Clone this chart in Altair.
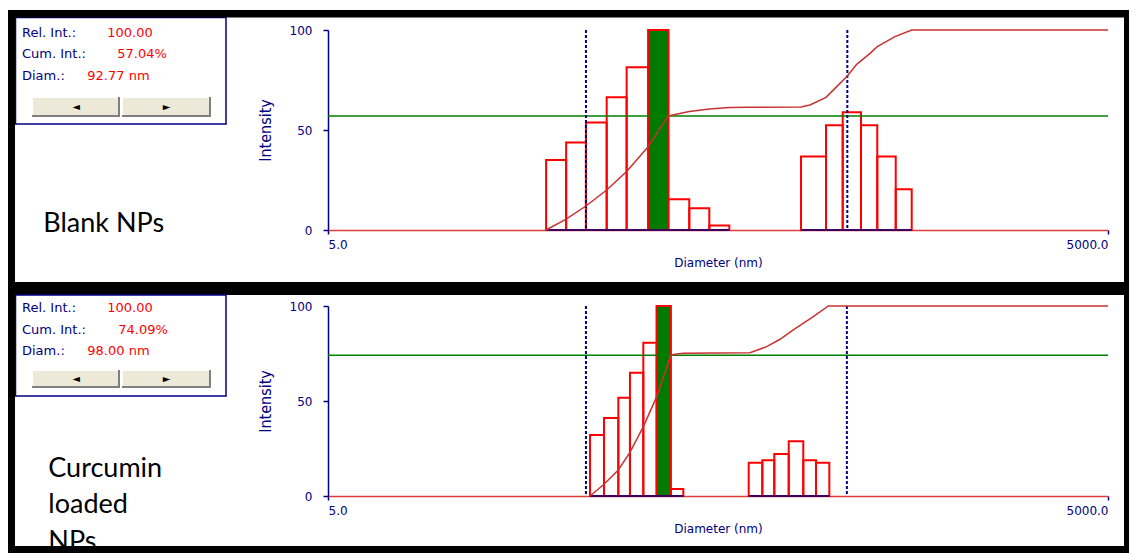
import altair as alt
import pandas as pd

# ---------------- data ----------------
# Panel 1 : Blank NPs  -- histogram bin edges (nm) and relative intensities
blank_edges_a = [34.5, 41.2, 49.1, 59.0, 70.4, 85.3, 101.8, 122.6, 146.4, 174.8]
blank_int_a = [35.0, 43.7, 53.7, 66.4, 81.4, 100.0, 15.4, 10.9, 2.2]
blank_edges_b = [329.8, 411.5, 477.1, 561.0, 648.0, 763.0, 879.0]
blank_int_b = [36.7, 52.4, 58.9, 52.4, 36.7, 20.4]
# cumulative intensity curve
blank_cum_d = [34.5, 41.2, 49.1, 59.0, 70.4, 85.3, 101.8, 122.6, 146.4, 174.8, 210.0,
               329.8, 357.0, 411.5, 452.5, 497.0, 540.0, 607.6, 648.0, 758.0, 879.0, 5000.0]
blank_cum_v = [0.0, 5.4, 12.0, 20.0, 29.2, 41.7, 57.04, 59.2, 60.5, 61.2, 61.4,
               61.5, 62.5, 66.3, 71.7, 77.0, 82.8, 88.3, 91.7, 96.7, 100.0, 100.0]
blank_markers = [49.1, 497.0]
blank_readout = {"rel": "100.00", "cum": 57.04, "diam": 92.77}

# Panel 2 : Curcumin loaded NPs
loaded_edges_a = [50.9, 57.6, 65.4, 72.5, 81.6, 91.9, 104.0, 116.3]
loaded_int_a = [32.1, 41.1, 51.7, 64.9, 80.7, 100.0, 3.7]
loaded_edges_b = [207.5, 234.1, 260.3, 295.8, 336.5, 376.6, 423.8]
loaded_int_b = [17.5, 18.8, 22.1, 28.8, 18.8, 17.5]
loaded_cum_d = [50.9, 57.6, 65.4, 72.5, 81.6, 91.9, 104.0, 108.0, 116.3, 209.9,
                243.4, 273.8, 308.0, 367.7, 420.0, 5000.0]
loaded_cum_v = [0.0, 6.2, 13.7, 23.0, 36.5, 52.3, 74.09, 74.6, 75.1, 75.4,
                78.6, 82.5, 87.4, 94.4, 100.0, 100.0]
loaded_markers = [49.1, 495.0]
loaded_readout = {"rel": "100.00", "cum": 74.09, "diam": 98.00}

x_ticks = [5, 5000]
y_ticks = [0, 50, 100]

# ---------------- styling ----------------
NAVY = "#000080"
RED = "#FF0000"
GREEN = "#008000"
X_LEFT = 328          # page x of the plot's left edge
PLOT_W = 780
RIGHT = 1129          # right edge of the drawing on the page
ONE = pd.DataFrame({"k": [0]})

XS = alt.Scale(type="log", domain=[5, 5000], nice=False)
YS = alt.Scale(domain=[0, 100], nice=False, zero=True)


def bars_df(edge_groups, int_groups, diam):
    rows = []
    for edges, vals in zip(edge_groups, int_groups):
        for i, v in enumerate(vals):
            lo, hi = edges[i], edges[i + 1]
            rows.append({"lo": lo, "hi": hi, "val": v, "sel": bool(lo <= diam < hi)})
    return pd.DataFrame(rows)


def panel(top, h, edge_groups, int_groups, cum_d, cum_v, markers, readout,
          box, text_rows, buttons, labels, frame, bg=None):
    fx = lambda p: p - X_LEFT
    fy = lambda p: p - top
    layers = []

    def prect(x1, y1, x2, y2, **kw):
        return alt.Chart(ONE).mark_rect(**kw).encode(
            x=alt.value(fx(x1)), x2=alt.value(fx(x2)),
            y=alt.value(fy(y1)), y2=alt.value(fy(y2)))

    if bg is not None:
        layers.append(prect(*bg, color="white", opacity=0))

    bdf = bars_df(edge_groups, int_groups, readout["diam"])
    x_axis = alt.Axis(values=x_ticks, format=".1f", labelFlush=True, grid=False,
                      title="Diameter (nm)", domainColor="#E03C3C", domainWidth=1.5,
                      tickColor=NAVY, tickSize=4, tickWidth=1.5,
                      labelColor=NAVY, labelFont="DejaVu Sans", labelFontSize=12,
                      labelPadding=5, titleColor=NAVY, titleFont="DejaVu Sans",
                      titleFontSize=12, titleFontWeight="normal", titlePadding=7)
    y_axis = alt.Axis(values=y_ticks, format="d", grid=False, title="Intensity",
                      domainColor=NAVY, domainWidth=1.5, tickColor=NAVY, tickSize=5,
                      tickWidth=1.5, labelColor=NAVY, labelFont="DejaVu Sans",
                      labelFontSize=12, labelPadding=11, titleColor=NAVY,
                      titleFont="'Liberation Sans Narrow', 'DejaVu Sans Condensed', 'Liberation Sans', sans-serif",
                      titleFontSize=16, titleFontWeight="normal", titleX=-55,
                      titleY=h / 2, titleAngle=270, titleAlign="center",
                      titleBaseline="bottom")

    bars = alt.Chart(bdf).mark_rect(fill="white", fillOpacity=0, stroke=RED,
                                    strokeWidth=2).encode(
        x=alt.X("lo:Q", scale=XS, axis=x_axis, title="Diameter (nm)"),
        x2="hi:Q",
        y=alt.Y("val:Q", scale=YS, axis=y_axis, title="Intensity"),
        y2=alt.datum(0))
    sel = alt.Chart(bdf).transform_filter("datum.sel").mark_rect(
        fill="#007A00", stroke=RED, strokeWidth=2).encode(
        x=alt.X("lo:Q", scale=XS, title="Diameter (nm)"), x2="hi:Q",
        y=alt.Y("val:Q", scale=YS, title="Intensity"), y2=alt.datum(0))
    layers += [bars, sel]

    gdf = pd.DataFrame({"lo": [e[0] for e in edge_groups],
                        "hi": [e[-1] for e in edge_groups]})
    layers.append(alt.Chart(gdf).mark_rule(color=NAVY, strokeWidth=1.5).encode(
        x=alt.X("lo:Q", scale=XS, title="Diameter (nm)"), x2="hi:Q",
        y=alt.datum(0)))

    layers.append(alt.Chart(pd.DataFrame({"cum": [readout["cum"]]})).mark_rule(
        color=GREEN, strokeWidth=1.5).encode(
        y=alt.Y("cum:Q", scale=YS, title="Intensity")))

    layers.append(alt.Chart(pd.DataFrame({"m": markers})).mark_rule(
        color=NAVY, strokeWidth=2, strokeDash=[3, 2]).encode(
        x=alt.X("m:Q", scale=XS, title="Diameter (nm)")))

    layers.append(alt.Chart(pd.DataFrame({"d": cum_d, "v": cum_v})).mark_line(
        color="#C83232", strokeWidth=1.5).encode(
        x=alt.X("d:Q", scale=XS, title="Diameter (nm)"),
        y=alt.Y("v:Q", scale=YS, title="Intensity")))

    # read-out box
    layers.append(prect(*box, fill="white", stroke=NAVY, strokeWidth=1.5))
    for (lab, val, vx, by) in text_rows:
        layers.append(alt.Chart(ONE).mark_text(
            text=lab, align="left", baseline="alphabetic", font="DejaVu Sans",
            fontSize=13, color=NAVY).encode(x=alt.value(fx(22)), y=alt.value(fy(by))))
        layers.append(alt.Chart(ONE).mark_text(
            text=val, align="left", baseline="alphabetic", font="DejaVu Sans",
            fontSize=13, color=RED).encode(x=alt.value(fx(vx)), y=alt.value(fy(by))))
    for (x1, y1, x2, y2, glyph) in buttons:
        # 3-D push button: face, dark bottom/right edge, white top/left edge
        layers.append(prect(x1, y1, x2, y2, fill="#7F7F7F"))
        layers.append(prect(x1, y1, x2 - 2, y2 - 2, fill="#FFFFFF"))
        layers.append(prect(x1 + 1, y1 + 1, x2 - 2, y2 - 2, fill="#ECE9D8"))
        layers.append(alt.Chart(ONE).mark_text(
            text=glyph, align="center", baseline="middle", font="DejaVu Sans",
            fontSize=10, color="black").encode(
            x=alt.value(fx((x1 + x2) / 2)), y=alt.value(fy((y1 + y2) / 2))))

    for (s, lx, by) in labels:
        layers.append(alt.Chart(ONE).mark_text(
            text=s, align="left", baseline="alphabetic", font="Lato",
            fontSize=27, color="black").encode(x=alt.value(fx(lx)), y=alt.value(fy(by))))

    for (x1, y1, x2, y2) in frame:
        layers.append(prect(x1, y1, x2, y2, color="black"))

    return alt.layer(*layers).properties(width=PLOT_W, height=h)


top = panel(
    30, 200,
    [blank_edges_a, blank_edges_b], [blank_int_a, blank_int_b],
    blank_cum_d, blank_cum_v, blank_markers, blank_readout,
    box=(15.5, 17.5, 226, 124),
    text_rows=[("Rel. Int.: ", blank_readout["rel"], 107.3, 36.5),
               ("Cum. Int.: ", "%.2f%%" % blank_readout["cum"], 117.3, 57.5),
               ("Diam.: ", "%.2f nm" % blank_readout["diam"], 87.3, 79.5)],
    buttons=[(32, 97, 120, 117, "◄"), (122, 97, 211, 117, "►")],
    labels=[("Blank NPs", 43.3, 231.7)],
    frame=[(8, 10, RIGHT, 17.5), (8, 10, 15, 282), (RIGHT - 5, 10, RIGHT, 282),
           (8, 282, RIGHT, 295)],
    bg=(8, 8, RIGHT, 282))

bottom = panel(
    306, 190,
    [loaded_edges_a, loaded_edges_b], [loaded_int_a, loaded_int_b],
    loaded_cum_d, loaded_cum_v, loaded_markers, loaded_readout,
    box=(15.5, 295, 226, 396),
    text_rows=[("Rel. Int.: ", loaded_readout["rel"], 107.3, 312),
               ("Cum. Int.: ", "%.2f%%" % loaded_readout["cum"], 118.3, 333.5),
               ("Diam.: ", "%.2f nm" % loaded_readout["diam"], 87.3, 355)],
    buttons=[(32, 370, 120, 388, "◄"), (122, 370, 211, 388, "►")],
    labels=[("Curcumin", 48.3, 476.7), ("loaded", 48.3, 513.3), ("NPs", 48.3, 550)],
    frame=[(8, 295, 15, 553), (RIGHT - 5, 295, RIGHT, 553), (8, 546, RIGHT, 553)])

chart = alt.vconcat(top, bottom, spacing=76, bounds="flush").properties(
    padding=0, background="white"
).configure_view(strokeWidth=0)

chart.save("out.html", embed_options={"renderer": "svg", "actions": False})
